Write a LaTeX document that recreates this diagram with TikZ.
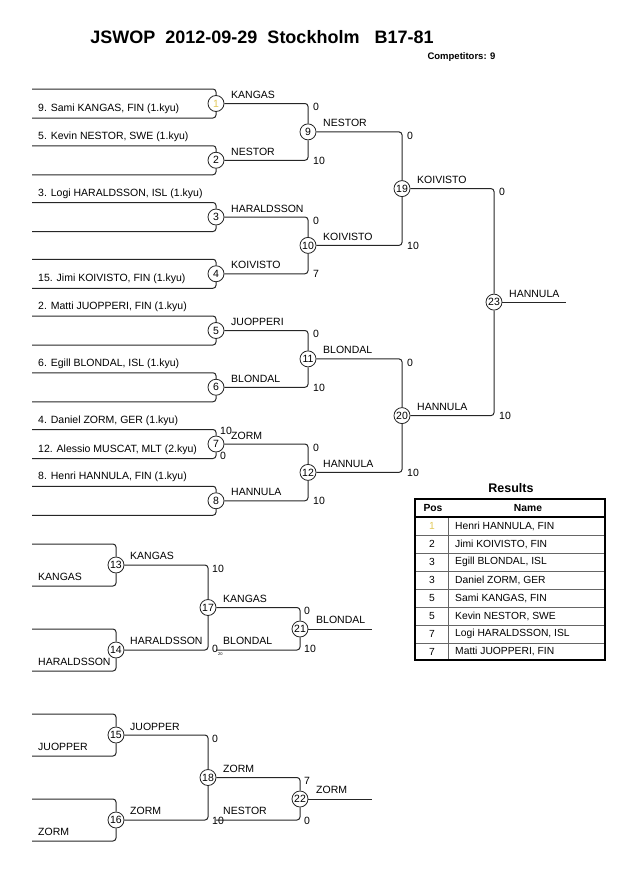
\documentclass[tikz,border=0pt]{standalone}
\usepackage{fontspec}
\setmainfont{Liberation Sans}
\usepackage{tikz}
\usetikzlibrary{calc,backgrounds}

\definecolor{pale}{RGB}{225,200,90}

\tikzset{
  br/.style={line width=1pt, draw=black!85, rounded corners=3pt},
  bout/.style={circle, draw=black!85, line width=0.8pt, fill=white, inner sep=0pt,
    minimum size=16pt, font=\fontsize{10.5}{11}\selectfont},
  nm/.style={anchor=base west, inner sep=0pt, font=\fontsize{10.5}{12}\selectfont},
  sc/.style={anchor=west, inner sep=0pt, font=\fontsize{10.5}{12}\selectfont},
  cell/.style={inner sep=0pt, font=\fontsize{10.3}{12}\selectfont},
}

\begin{document}
\begin{tikzpicture}[x=1pt,y=-1pt]
\useasboundingbox (0,0) rectangle (630,891);

% title
\node[font=\fontsize{18}{22}\selectfont\bfseries] (title) at (262,37.5)
  {JSWOP\ \ 2012-09-29\ \ Stockholm\ \ \ B17-81};
\node[anchor=east, font=\fontsize{9.5}{11}\selectfont\bfseries] (comp) at (499,57) {Competitors: 9};

% first round
\foreach \k/\c/\col in {1/103.5/pale,2/160.25/black,3/217/black,4/273.75/black,
                        5/330.5/black,6/387.25/black,7/444/black,8/500.75/black}{
  \coordinate (t\k) at (32,{\c-14.5});
  \coordinate (u\k) at (32,{\c+14.5});
  \node[bout, text=\col] (m\k) at (216,\c) {\k};
  \draw[br] (t\k) -| (m\k.north);
  \draw[br] (m\k.south) |- (u\k);
}
\node[nm] (p1) at ($(u1)+(6,-6.5)$) {9. Sami KANGAS, FIN (1.kyu)};
\node[nm] (p2) at ($(t2)+(6,-6.5)$) {5. Kevin NESTOR, SWE (1.kyu)};
\node[nm] (p3) at ($(t3)+(6,-6.5)$) {3. Logi HARALDSSON, ISL (1.kyu)};
\node[nm] (p4) at ($(u4)+(6,-6.5)$) {15. Jimi KOIVISTO, FIN (1.kyu)};
\node[nm] (p5) at ($(t5)+(6,-6.5)$) {2. Matti JUOPPERI, FIN (1.kyu)};
\node[nm] (p6) at ($(t6)+(6,-6.5)$) {6. Egill BLONDAL, ISL (1.kyu)};
\node[nm] (p7) at ($(t7)+(6,-6.5)$) {4. Daniel ZORM, GER (1.kyu)};
\node[nm] (q7) at ($(u7)+(6,-6.5)$) {12. Alessio MUSCAT, MLT (2.kyu)};
\node[nm] (p8) at ($(t8)+(6,-6.5)$) {8. Henri HANNULA, FIN (1.kyu)};
\node[sc] (s7a) at ($(m7)+(4,-13)$) {10};
\node[sc] (s7b) at ($(m7)+(4,12)$) {0};

% second round
\node[bout] (m9) at (308,131.9) {9};
\node[bout] (m10) at (308,245.4) {10};
\node[bout] (m11) at (308,358.9) {11};
\node[bout] (m12) at (308,472.4) {12};
\draw[br] (m1.east) -| (m9.north);   \draw[br] (m2.east) -| (m9.south);
\draw[br] (m3.east) -| (m10.north);  \draw[br] (m4.east) -| (m10.south);
\draw[br] (m5.east) -| (m11.north);  \draw[br] (m6.east) -| (m11.south);
\draw[br] (m7.east) -| (m12.north);  \draw[br] (m8.east) -| (m12.south);
\node[nm] (w1) at ($(m1)+(15,-5)$) {KANGAS};
\node[nm] (w2) at ($(m2)+(15,-5)$) {NESTOR};
\node[nm] (w3) at ($(m3)+(15,-5)$) {HARALDSSON};
\node[nm] (w4) at ($(m4)+(15,-5)$) {KOIVISTO};
\node[nm] (w5) at ($(m5)+(15,-5)$) {JUOPPERI};
\node[nm] (w6) at ($(m6)+(15,-5)$) {BLONDAL};
\node[nm] (w7) at ($(m7)+(15,-4.5)$) {ZORM};
\node[nm] (w8) at ($(m8)+(15,-5)$) {HANNULA};
\node[sc] (s9a) at ($(m9 |- m1)+(5,3.5)$) {0};
\node[sc] (s9b) at ($(m9 |- m2)+(5,0.5)$) {10};
\node[sc] (s10a) at ($(m10 |- m3)+(5,3.5)$) {0};
\node[sc] (s10b) at ($(m10 |- m4)+(5,0.5)$) {7};
\node[sc] (s11a) at ($(m11 |- m5)+(5,3.5)$) {0};
\node[sc] (s11b) at ($(m11 |- m6)+(5,0.5)$) {10};
\node[sc] (s12a) at ($(m12 |- m7)+(5,3.5)$) {0};
\node[sc] (s12b) at ($(m12 |- m8)+(5,0.5)$) {10};

% semifinals and final
\node[bout] (m19) at (402,188.6) {19};
\node[bout] (m20) at (402,415.6) {20};
\node[bout] (m23) at (494,302.1) {23};
\coordinate (f23) at ($(m23)+(72,0)$);
\draw[br] (m9.east) -| (m19.north);   \draw[br] (m10.east) -| (m19.south);
\draw[br] (m11.east) -| (m20.north);  \draw[br] (m12.east) -| (m20.south);
\draw[br] (m19.east) -| (m23.north);  \draw[br] (m20.east) -| (m23.south);
\draw[br] (m23.east) -- (f23);
\node[nm] (w9) at ($(m9)+(15,-5)$) {NESTOR};
\node[nm] (w10) at ($(m10)+(15,-5)$) {KOIVISTO};
\node[nm] (w11) at ($(m11)+(15,-5)$) {BLONDAL};
\node[nm] (w12) at ($(m12)+(15,-5)$) {HANNULA};
\node[nm] (w19) at ($(m19)+(15,-5)$) {KOIVISTO};
\node[nm] (w20) at ($(m20)+(15,-5)$) {HANNULA};
\node[nm] (w23) at ($(m23)+(15,-5)$) {HANNULA};
\node[sc] (s19a) at ($(m19 |- m9)+(5,3.5)$) {0};
\node[sc] (s19b) at ($(m19 |- m10)+(5,0.5)$) {10};
\node[sc] (s20a) at ($(m20 |- m11)+(5,3.5)$) {0};
\node[sc] (s20b) at ($(m20 |- m12)+(5,0.5)$) {10};
\node[sc] (s23a) at ($(m23 |- m19)+(5,3.5)$) {0};
\node[sc] (s23b) at ($(m23 |- m20)+(5,0.5)$) {10};

% results
\node[font=\fontsize{12.5}{14}\selectfont\bfseries] (restitle) at (511,488) {Results};
\foreach \i/\y in {1/535,2/553,3/571,4/589,5/607,6/625,7/643}
  \draw[black!60, line width=0.9pt] (415,\y) -- (605,\y);
\draw[black!60, line width=0.9pt] (448,517) -- (448,660);
\draw[line width=2pt] (415,517) -- (605,517);
\draw[line width=2pt] (415,499) rectangle (605,660);
\node[cell, font=\fontsize{10.3}{12}\selectfont\bfseries] (hpos) at (433,508) {Pos};
\node[cell, font=\fontsize{10.3}{12}\selectfont\bfseries] (hname) at (528,508) {Name};
\foreach \i/\y/\p/\n/\col in {1/526/1/{Henri HANNULA, FIN}/pale,
    2/544/2/{Jimi KOIVISTO, FIN}/black,
    3/562/3/{Egill BLONDAL, ISL}/black,
    4/580/3/{Daniel ZORM, GER}/black,
    5/598/5/{Sami KANGAS, FIN}/black,
    6/616/5/{Kevin NESTOR, SWE}/black,
    7/634/7/{Logi HARALDSSON, ISL}/black,
    8/651.5/7/{Matti JUOPPERI, FIN}/black}{
  \node[cell, text=\col] (rp\i) at (432,\y) {\p};
  \node[cell, anchor=west] (rn\i) at (455,\y) {\n};
}

% repechage A
\node[bout] (m13) at (116,565) {13};
\node[bout] (m14) at (116,650) {14};
\node[bout] (m17) at (208,607.5) {17};
\node[bout] (m21) at (300,629) {21};
\coordinate (t13) at (32,544);  \coordinate (u13) at (32,586);
\coordinate (t14) at (32,629);  \coordinate (u14) at (32,671);
\coordinate (l21) at (216,650);
\coordinate (f21) at (372,629);
\draw[br] (t13) -| (m13.north);  \draw[br] (m13.south) |- (u13);
\draw[br] (t14) -| (m14.north);  \draw[br] (m14.south) |- (u14);
\draw[br] (m13.east) -| (m17.north);  \draw[br] (m14.east) -| (m17.south);
\draw[br] (m17.east) -| (m21.north);  \draw[br] (l21) -| (m21.south);
\draw[br] (m21.east) -- (f21);
\node[nm] (r13) at ($(u13)+(6,-6)$) {KANGAS};
\node[nm] (r14) at ($(u14)+(6,-6)$) {HARALDSSON};
\node[nm] (w13) at ($(m13)+(14,-5.5)$) {KANGAS};
\node[nm] (w14) at ($(m14)+(14,-5.5)$) {HARALDSSON};
\node[nm] (w17) at ($(m17)+(15,-5)$) {KANGAS};
\node[nm] (v21) at ($(l21)+(7,-5.5)$) {BLONDAL};
\node[nm] (w21) at ($(m21)+(16,-5.5)$) {BLONDAL};
\node[sc] (s17a) at ($(m17 |- m13)+(4,3.5)$) {10};
\node[sc] (s17b) at ($(m17 |- m14)+(4,-1)$) {0};
\node[sc, font=\fontsize{4}{5}\selectfont] (s17c) at ($(m17 |- m14)+(10,4)$) {20};
\node[sc] (s21a) at ($(m21 |- m17)+(4,3.5)$) {0};
\node[sc] (s21b) at ($(m21 |- l21)+(4,-1)$) {10};

% repechage B
\node[bout] (m15) at (116,735) {15};
\node[bout] (m16) at (116,820) {16};
\node[bout] (m18) at (208,777.5) {18};
\node[bout] (m22) at (300,799) {22};
\coordinate (t15) at (32,714);  \coordinate (u15) at (32,756);
\coordinate (t16) at (32,799);  \coordinate (u16) at (32,841);
\coordinate (l22) at (216,820);
\coordinate (f22) at (372,799);
\draw[br] (t15) -| (m15.north);  \draw[br] (m15.south) |- (u15);
\draw[br] (t16) -| (m16.north);  \draw[br] (m16.south) |- (u16);
\draw[br] (m15.east) -| (m18.north);  \draw[br] (m16.east) -| (m18.south);
\draw[br] (m18.east) -| (m22.north);  \draw[br] (l22) -| (m22.south);
\draw[br] (m22.east) -- (f22);
\node[nm] (r15) at ($(u15)+(6,-6)$) {JUOPPER};
\node[nm] (r16) at ($(u16)+(6,-6)$) {ZORM};
\node[nm] (w15) at ($(m15)+(14,-4.5)$) {JUOPPER};
\node[nm] (w16) at ($(m16)+(14,-5.5)$) {ZORM};
\node[nm] (w18) at ($(m18)+(15,-5)$) {ZORM};
\node[nm] (v22) at ($(l22)+(7,-5.5)$) {NESTOR};
\node[nm] (w22) at ($(m22)+(16,-5.5)$) {ZORM};
\node[sc] (s18a) at ($(m18 |- m15)+(4,3.5)$) {0};
\node[sc] (s18b) at ($(m18 |- m16)+(4,1)$) {10};
\node[sc] (s22a) at ($(m22 |- m18)+(4,3.5)$) {7};
\node[sc] (s22b) at ($(m22 |- l22)+(4,1)$) {0};
\end{tikzpicture}
\end{document}
